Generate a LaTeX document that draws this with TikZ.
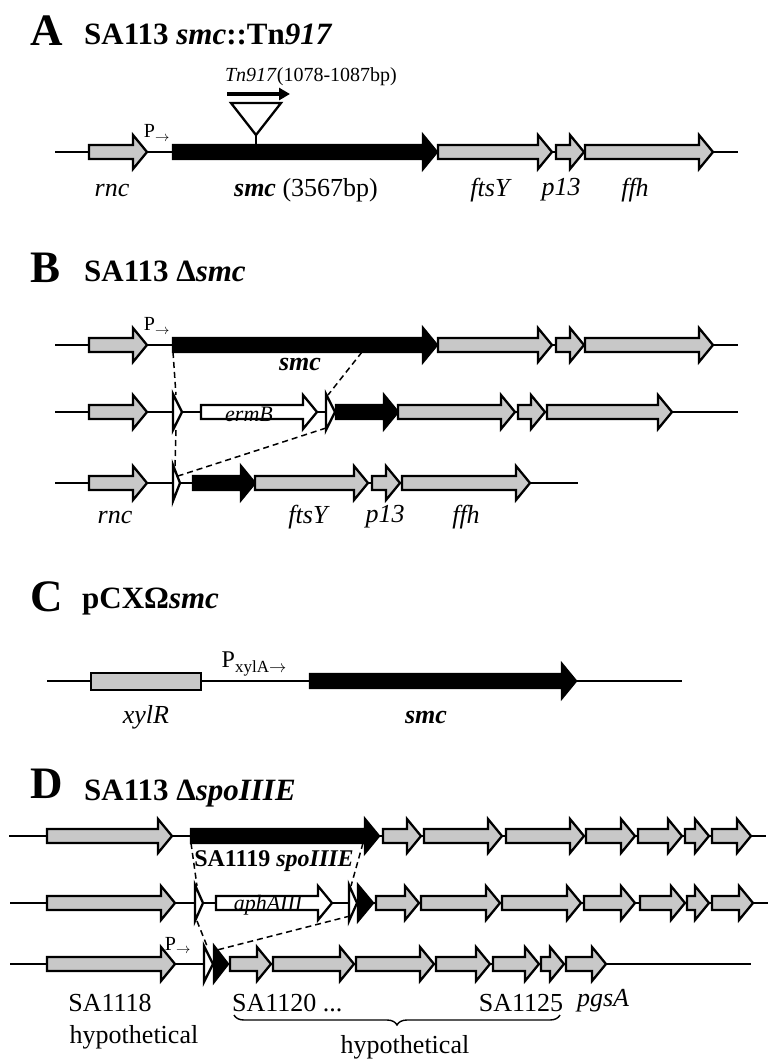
\documentclass[tikz,border=0pt]{standalone}
\usepackage{fontspec}
\setmainfont{Liberation Serif}
\usetikzlibrary{arrows.meta,decorations.pathreplacing}
\definecolor{genegray}{HTML}{C8C8C8}

\tikzset{
	backbone/.style={line width=2.4pt},
	genebox/.style={draw=black, line width=2.3pt, line join=miter},
	link/.style={line width=1.5pt, dash pattern=on 6pt off 4pt},
	panel/.style={font=\fontsize{45}{45}\selectfont\bfseries, inner sep=0pt, anchor=base west},
	headline/.style={font=\fontsize{31}{31}\selectfont\bfseries, inner sep=0pt, anchor=base west},
	genename/.style={font=\fontsize{26}{26}\selectfont\itshape, inner sep=0pt},
	locus/.style={font=\fontsize{26}{26}\selectfont, inner sep=0pt},
	promoter/.style={font=\fontsize{20}{20}\selectfont, inner sep=0pt},
}

% from, to, row, fill
\newcommand{\gene}[4]{\draw[genebox,fill=#4] (#1,#3-7) -- (#2-14,#3-7) -- (#2-14,#3-17) -- (#2,#3) -- (#2-14,#3+17) -- (#2-14,#3+7) -- (#1,#3+7) -- cycle;}
\newcommand{\site}[4]{\draw[genebox,fill=#4] (#1,#3-18) -- (#2,#3) -- (#1,#3+18) -- cycle;}

\begin{document}
\begin{tikzpicture}[x=1pt,y=-1pt]
	\useasboundingbox (0,0) rectangle (768,1061);

	\node[panel] (titleA) at (30,45) {A};
	\node[headline] (headA) at (84,44) {SA113 \textit{smc}::Tn\textit{917}};
	\draw[backbone] (55,152) -- (738,152);
	\gene{89}{147}{152}{genegray}
	\gene{173}{437}{152}{black}
	\foreach \a/\b in {438/552,556/584,585/713}
		{\gene{\a}{\b}{152}{genegray}}
	\node[promoter] (pA) at (157,133) {P$_\rightarrow$};
	\draw[genebox] (231,103) -- (281,103) -- (256,135) -- cycle;
	\draw[line width=2pt] (256,135) -- (256,145);
	\draw[line width=4pt,-{Triangle[length=11pt,width=12pt]}] (227,94) -- (290,94);
	\node[promoter] (tnA) at (311,77) {\textit{Tn917}(1078-1087bp)};
	\node[genename] (rncA) at (112,190) {rnc};
	\node[locus] (smcA) at (306,190) {\textbf{\textit{smc}} (3567bp)};
	\node[genename] (ftsA) at (490,190) {ftsY};
	\node[genename] (p13A) at (561,190) {p13};
	\node[genename] (ffhA) at (635,190) {ffh};

	\node[panel] (titleB) at (30,282) {B};
	\node[headline] (headB) at (84,281) {SA113 Δ\textit{smc}};
	\draw[backbone] (55,345) -- (738,345);
	\gene{89}{147}{345}{genegray}
	\gene{173}{437}{345}{black}
	\foreach \a/\b in {438/552,556/584,585/713}
		{\gene{\a}{\b}{345}{genegray}}
	\node[promoter] (pB) at (157,326) {P$_\rightarrow$};
	\node[genename,font=\fontsize{26}{26}\selectfont\bfseries\itshape] (smcB) at (300,364) {smc};
	\draw[backbone] (55,412) -- (738,412);
	\gene{89}{147}{412}{genegray}
	\site{173}{182}{412}{white}
	\gene{201}{317}{412}{white}
	\site{326}{335}{412}{white}
	\gene{336}{398}{412}{black}
	\foreach \a/\b in {398/515,518/545,547/672}
		{\gene{\a}{\b}{412}{genegray}}
	\node[genename,font=\fontsize{22}{22}\selectfont\itshape] (ermB) at (249,414) {ermB};
	\draw[backbone] (55,483) -- (578,483);
	\gene{89}{147}{483}{genegray}
	\site{173}{180}{483}{white}
	\gene{193}{255}{483}{black}
	\foreach \a/\b in {255/368,372/400,402/530}
		{\gene{\a}{\b}{483}{genegray}}
	\coordinate (smcBL) at (173,352);
	\coordinate (smcBR) at (362,352);
	\coordinate (siteLt) at (176,395);
	\coordinate (siteLb) at (176,430);
	\coordinate (siteRt) at (328,395);
	\coordinate (siteRb) at (326,428);
	\coordinate (siteDt) at (175,466);
	\coordinate (siteDm) at (178,476);
	\draw[link] (smcBL) -- (siteLt);
	\draw[link] (smcBR) -- (siteRt);
	\draw[link] (siteLb) -- (siteDt);
	\draw[link] (siteRb) -- (siteDm);
	\node[genename] (rncB) at (115,517) {rnc};
	\node[genename] (ftsB) at (308,517) {ftsY};
	\node[genename] (p13B) at (385,517) {p13};
	\node[genename] (ffhB) at (466,517) {ffh};

	\node[panel] (titleC) at (30,611) {C};
	\node[headline] (headC) at (82,608) {pCXΩ\textit{smc}};
	\draw[backbone] (47,681) -- (682,681);
	\draw[genebox,fill=genegray] (91,673) rectangle (201,690);
	\gene{310}{576}{681}{black}
	\node[locus,font=\fontsize{24}{24}\selectfont] (pC) at (254,664) {P\raisebox{-0.45ex}{\fontsize{17}{17}\selectfont xylA$\rightarrow$}};
	\node[genename] (xylR) at (146,717) {xylR};
	\node[genename,font=\fontsize{26}{26}\selectfont\bfseries\itshape] (smcC) at (426,717) {smc};

	\node[panel] (titleD) at (30,798) {D};
	\node[headline] (headD) at (84,800) {SA113 Δ\textit{spoIIIE}};
	\draw[backbone] (9,836) -- (766,836);
	\gene{47}{172}{836}{genegray}
	\gene{191}{379}{836}{black}
	\foreach \a/\b in {383/421,424/502,506/584,586/635,638/682,685/709,712/751}
		{\gene{\a}{\b}{836}{genegray}}
	\node[locus,font=\fontsize{24}{24}\selectfont\bfseries] (spoD) at (274,861) {SA1119 \textit{spoIIIE}};
	\draw[backbone] (10,903) -- (770,903);
	\gene{47}{175}{903}{genegray}
	\site{195}{203}{903}{white}
	\gene{216}{332}{903}{white}
	\site{349}{357}{903}{white}
	\site{358}{373}{903}{black}
	\foreach \a/\b in {376/419,421/500,502/581,584/635,640/685,687/709,712/753}
		{\gene{\a}{\b}{903}{genegray}}
	\node[genename,font=\fontsize{22}{22}\selectfont\itshape] (aph) at (268,905) {aphAIII};
	\draw[backbone] (10,964) -- (751,964);
	\gene{47}{175}{964}{genegray}
	\site{204}{213}{964}{white}
	\site{214}{228}{964}{black}
	\foreach \a/\b in {230/271,273/354,356/434,436/490,493/539,541/564,566/606}
		{\gene{\a}{\b}{964}{genegray}}
	\node[promoter] (pD) at (178,945) {P$_\rightarrow$};
	\coordinate (spoL) at (191,843);
	\coordinate (spoR) at (363,843);
	\coordinate (aphLt) at (197,886);
	\coordinate (aphLb) at (197,921);
	\coordinate (aphRt) at (351,886);
	\coordinate (aphRb) at (350,916);
	\coordinate (delLt) at (207,946);
	\coordinate (delRt) at (217,950);
	\draw[link] (spoL) -- (aphLt);
	\draw[link] (spoR) -- (aphRt);
	\draw[link] (aphLb) -- (delLt);
	\draw[link] (aphRb) -- (delRt);
	\node[locus] (sa1118) at (110,1003) {SA1118};
	\node[locus] (hypo1) at (134,1037) {hypothetical};
	\node[locus,anchor=west] (sa1120) at (232,1003) {SA1120 ...};
	\node[locus] (sa1125) at (521,1003) {SA1125};
	\node[genename] (pgsA) at (603,1001) {pgsA};
	\draw[line width=1.4pt,decoration={brace,mirror,amplitude=10pt},decorate] (234,1015) -- (560,1015);
	\node[locus] (hypo2) at (405,1047) {hypothetical};
\end{tikzpicture}
\end{document}
